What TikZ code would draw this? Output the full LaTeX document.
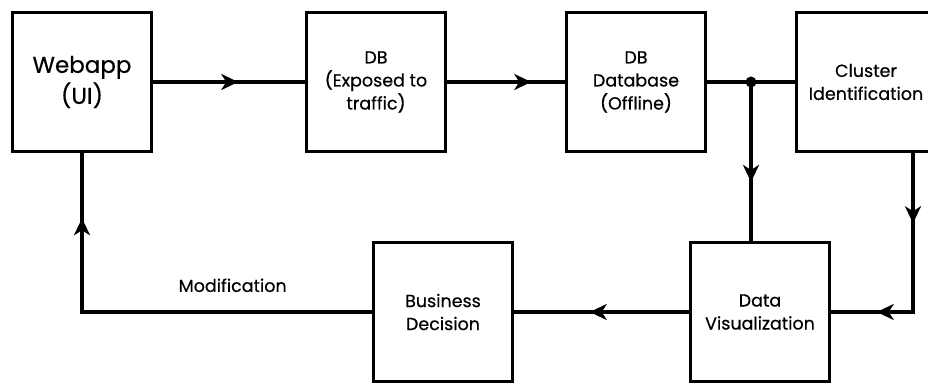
\documentclass[tikz,border=0pt]{standalone}
\usepackage{fontspec}
\setmainfont{Poppins}[FakeBold=0.5]
\usetikzlibrary{arrows.meta,decorations.markings}

\begin{document}
\begin{tikzpicture}[x=1pt, y=1pt,
    >={Stealth[length=17pt, width=16pt, inset=5pt]},
    block/.style={rectangle, draw, line width=3.5pt, minimum size=139pt, inner sep=2pt, align=center, font=\fontsize{17.5}{23}\selectfont},
    link/.style={draw, line width=3.2pt},
    midarrow/.style={postaction={decorate}, decoration={markings, mark=at position #1 with {\arrow{>}}}},
    junction/.style={circle, fill, inner sep=0pt, minimum size=11pt}
]
\useasboundingbox (0,0) rectangle (928,383);

% Define blocks
\node[block, font=\fontsize{23}{31}\selectfont] (web) at (82, 301) {Webapp\\(UI)};
\node[block] (db1) at (376, 301) {DB\\(Exposed to\\traffic)};
\node[block] (db2) at (636, 301) {DB\\Database\\(Offline)};
\node[block] (clu) at (866, 301) {Cluster\\Identification};
\node[block] (viz) at (760, 71) {Data\\Visualization};
\node[block] (biz) at (443, 71) {Business\\Decision};

% Define helper points
\node[junction] (junc) at (751, 301) {};
\coordinate (cturn) at (913, 0);

% Define links
\path[link, midarrow=85pt] (web.east) -- (db1.west);
\path[link, midarrow=84pt] (db1.east) -- (db2.west);
\path[link] (db2.east) -- (clu.west);
\path[link, midarrow=100pt] (junc.center) -- (junc.center |- viz.north);
\path[link, postaction={decorate}, decoration={markings,
    mark=at position 70pt with {\arrow{>}},
    mark=at position 195pt with {\arrow{>}}}]
    (clu.south -| cturn) -- (cturn |- viz.east) -- (viz.east);
\path[link, midarrow=99pt] (viz.west) -- (biz.east);
\path[link, midarrow=-65pt] (biz.west)
    -- node[pos=0.48, above=15pt, font=\fontsize{17.5}{23}\selectfont] (modlabel) {Modification}
    (biz.west -| web.south) -- (web.south);

\end{tikzpicture}
\end{document}
